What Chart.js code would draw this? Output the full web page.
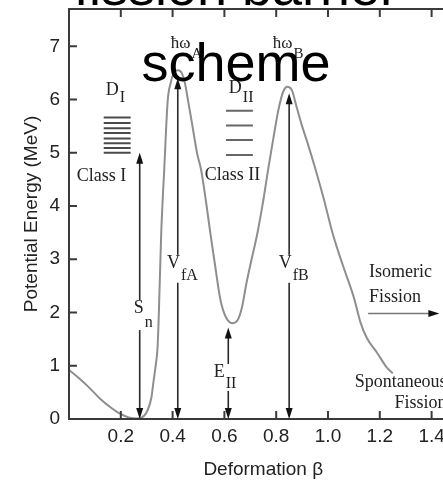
<!DOCTYPE html>
<html>
<head>
<meta charset="utf-8">
<script src="https://cdn.jsdelivr.net/npm/chart.js@4/dist/chart.umd.min.js"></script>
<style>
  html, body { margin: 0; padding: 0; background: #fff; overflow: hidden; }
</style>
</head>
<body>
<canvas id="barrier" width="472" height="482"></canvas>
<script>
// potential energy curve (deformation beta, MeV)
const betaPts = [0.00, 0.04, 0.08, 0.12, 0.16, 0.20, 0.23, 0.265, 0.29, 0.304, 0.318, 0.327, 0.336, 0.342, 0.347, 0.356, 0.368, 0.381, 0.392, 0.405, 0.42, 0.435, 0.448, 0.46, 0.475, 0.495, 0.51, 0.53, 0.546, 0.565, 0.585, 0.605, 0.63, 0.65, 0.668, 0.685, 0.705, 0.727, 0.75, 0.77, 0.79, 0.81, 0.828, 0.843, 0.86, 0.88, 0.90, 0.92, 0.95, 0.98, 1.02, 1.06, 1.10, 1.125, 1.15, 1.19, 1.225, 1.25];
const energyPts = [0.92, 0.76, 0.58, 0.38, 0.22, 0.09, 0.03, 0.01, 0.06, 0.17, 0.40, 0.73, 1.05, 1.35, 2.00, 3.48, 4.72, 5.97, 6.30, 6.50, 6.55, 6.50, 6.30, 5.97, 5.55, 4.98, 4.68, 4.05, 3.48, 2.85, 2.23, 1.92, 1.80, 1.85, 2.10, 2.55, 3.00, 3.48, 4.10, 4.72, 5.30, 5.84, 6.16, 6.24, 6.18, 5.84, 5.50, 5.20, 4.72, 4.20, 3.45, 2.85, 2.28, 1.82, 1.52, 1.24, 0.98, 0.86];

// level spacing marks for the two wells
const levelsI = [5.0, 5.09, 5.18, 5.27, 5.37, 5.46, 5.56, 5.66];
const levelsII = [4.96, 5.24, 5.51, 5.79];
const bandI = [0.134, 0.238];
const bandII = [0.606, 0.71];

// vertical arrows: Sn, VfA, EII, VfB
const arrowBeta = [0.273, 0.42, 0.615, 0.85];
const arrowTop = [5.0, 6.4, 1.72, 6.12];

// isomeric fission arrow
const isoBeta = [1.155, 1.43];
const isoEnergy = 1.98;

const xTicks = [0.2, 0.4, 0.6, 0.8, 1.0, 1.2, 1.4];
const yTicks = [0, 1, 2, 3, 4, 5, 6, 7];

const serif = "'Liberation Serif', 'Times New Roman', serif";
const sans = "'Liberation Sans', Arial, sans-serif";

// text placed in data coordinates
const notes = [
  { text: 'Class I', x: 0.03, y: 4.47 },
  { text: 'Class II', x: 0.524, y: 4.49 },
  { text: 'D', sub: 'I', x: 0.142, y: 6.08, dy: 7 },
  { text: 'D', sub: 'II', x: 0.617, y: 6.12, dy: 9 },
  { text: 'ħω', sub: 'A', x: 0.393, y: 6.97, dy: 10, size: 17 },
  { text: 'ħω', sub: 'B', x: 0.787, y: 6.97, dy: 10, size: 17 },
  { text: 'S', sub: 'n', x: 0.25, y: 1.99, dy: 14, box: true },
  { text: 'V', sub: 'fA', x: 0.378, y: 2.84, dy: 12, box: true },
  { text: 'V', sub: 'fB', x: 0.81, y: 2.84, dy: 12, box: true },
  { text: 'E', sub: 'II', x: 0.559, y: 0.79, dy: 11, box: true },
  { text: 'Isomeric', x: 1.158, y: 2.67 },
  { text: 'Fission', x: 1.158, y: 2.2 },
  { text: 'Spontaneous', x: 1.458, y: 0.6, align: 'right', box: true },
  { text: 'Fission', x: 1.458, y: 0.21, align: 'right', box: true }
];

function head(ctx, x, y, dx, dy) {
  // filled arrow head with its tip at (x, y), pointing along (dx, dy)
  const len = 11, half = 3.5;
  const bx = x - dx * len, by = y - dy * len;
  ctx.beginPath();
  ctx.moveTo(x, y);
  ctx.lineTo(bx - dy * half, by + dx * half);
  ctx.lineTo(bx + dy * half, by - dx * half);
  ctx.closePath();
  ctx.fill();
}

const framePlugin = {
  id: 'frame',
  afterDatasetsDraw(chart) {
    const { ctx, chartArea: a, scales: { x, y } } = chart;
    ctx.save();
    ctx.strokeStyle = '#3a3a3a';
    ctx.lineWidth = 2;
    ctx.strokeRect(a.left, a.top, a.right - a.left, a.bottom - a.top);
    ctx.beginPath();
    xTicks.forEach(v => {
      const px = x.getPixelForValue(v);
      ctx.moveTo(px, a.bottom); ctx.lineTo(px, a.bottom - 8);
      ctx.moveTo(px, a.top); ctx.lineTo(px, a.top + 8);
    });
    yTicks.slice(1).forEach(v => {
      const py = y.getPixelForValue(v);
      ctx.moveTo(a.left, py); ctx.lineTo(a.left + 8, py);
      ctx.moveTo(a.right, py); ctx.lineTo(a.right - 8, py);
    });
    ctx.stroke();

    // vertical arrows
    ctx.strokeStyle = '#2a2a2a';
    ctx.fillStyle = '#111';
    ctx.lineWidth = 1.6;
    arrowBeta.forEach((b, i) => {
      const px = x.getPixelForValue(b);
      const p0 = y.getPixelForValue(0);
      const p1 = y.getPixelForValue(arrowTop[i]);
      ctx.beginPath();
      ctx.moveTo(px, p0 - 6);
      ctx.lineTo(px, p1 + 6);
      ctx.stroke();
      head(ctx, px, p0, 0, 1);
      head(ctx, px, p1, 0, -1);
    });

    // isomeric fission arrow
    const iy = y.getPixelForValue(isoEnergy);
    const ix0 = x.getPixelForValue(isoBeta[0]);
    const ix1 = x.getPixelForValue(isoBeta[1]);
    ctx.strokeStyle = '#777';
    ctx.beginPath();
    ctx.moveTo(ix0, iy);
    ctx.lineTo(ix1 - 6, iy);
    ctx.stroke();
    head(ctx, ix1, iy, 1, 0);

    // labels
    ctx.textBaseline = 'alphabetic';
    notes.forEach(n => {
      const size = n.size || 18;
      const main = size + 'px ' + serif;
      const small = (size - 2) + 'px ' + serif;
      ctx.font = main;
      const w = ctx.measureText(n.text).width;
      let sw = 0;
      if (n.sub) { ctx.font = small; sw = ctx.measureText(n.sub).width + 1; }
      let px = x.getPixelForValue(n.x);
      const py = y.getPixelForValue(n.y);
      if (n.align === 'right') px -= w + sw;
      if (n.box) {
        ctx.fillStyle = '#fff';
        ctx.fillRect(px - 1, py - size * 0.72, w + sw + 2, size * 0.72 + (n.dy || 0) + 3);
      }
      ctx.fillStyle = '#222';
      ctx.font = main;
      ctx.fillText(n.text, px, py);
      if (n.sub) {
        ctx.font = small;
        ctx.fillText(n.sub, px + w + 1, py + n.dy);
      }
    });
    ctx.restore();
  },
  afterDraw(chart) {
    const { ctx, width } = chart;
    ctx.save();
    ctx.fillStyle = '#000';
    ctx.font = '54px ' + sans;
    ctx.textAlign = 'center';
    ctx.textBaseline = 'alphabetic';
    ctx.fillText('fission barrier', width / 2, 5);
    ctx.fillText('scheme', width / 2, 81);
    ctx.restore();
  }
};

const datasets = [{
  data: betaPts.map((b, i) => ({ x: b, y: energyPts[i] })),
  borderColor: '#8e8e8e',
  borderWidth: 2,
  pointRadius: 0,
  cubicInterpolationMode: 'monotone'
}];
levelsI.forEach(e => datasets.push({
  data: [{ x: bandI[0], y: e }, { x: bandI[1], y: e }],
  borderColor: '#4a4a4a', borderWidth: 2, pointRadius: 0
}));
levelsII.forEach(e => datasets.push({
  data: [{ x: bandII[0], y: e }, { x: bandII[1], y: e }],
  borderColor: '#666', borderWidth: 2, pointRadius: 0
}));

new Chart(document.getElementById('barrier'), {
  type: 'line',
  data: { datasets },
  options: {
    responsive: false,
    animation: false,
    devicePixelRatio: 1,
    layout: { padding: { top: 9, right: 14.5, left: 0, bottom: 0 } },
    plugins: { legend: { display: false }, tooltip: { enabled: false } },
    scales: {
      x: {
        type: 'linear', min: 0, max: 1.5,
        afterFit(s) { s.height = 63; s.paddingLeft = 0; s.paddingRight = 0; },
        grid: { display: false, drawTicks: false },
        border: { display: false },
        ticks: {
          stepSize: 0.2, includeBounds: false, padding: 6, color: '#222',
          font: { family: sans, size: 19 },
          callback: v => (v === 0 ? '' : v.toFixed(1))
        },
        title: { display: true, text: 'Deformation β', color: '#222', font: { family: sans, size: 19 }, padding: { top: 0, bottom: 1 } }
      },
      y: {
        min: 0, max: 7.7,
        afterFit(s) { s.width = 69; s.paddingTop = 0; s.paddingBottom = 0; },
        grid: { display: false, drawTicks: false },
        border: { display: false },
        ticks: { stepSize: 1, includeBounds: false, padding: 9, color: '#222', font: { family: sans, size: 19 } },
        title: { display: true, text: 'Potential Energy (MeV)', color: '#222', font: { family: sans, size: 19 }, padding: { top: 20, bottom: 0 } }
      }
    }
  },
  plugins: [framePlugin]
});
</script>
</body>
</html>
